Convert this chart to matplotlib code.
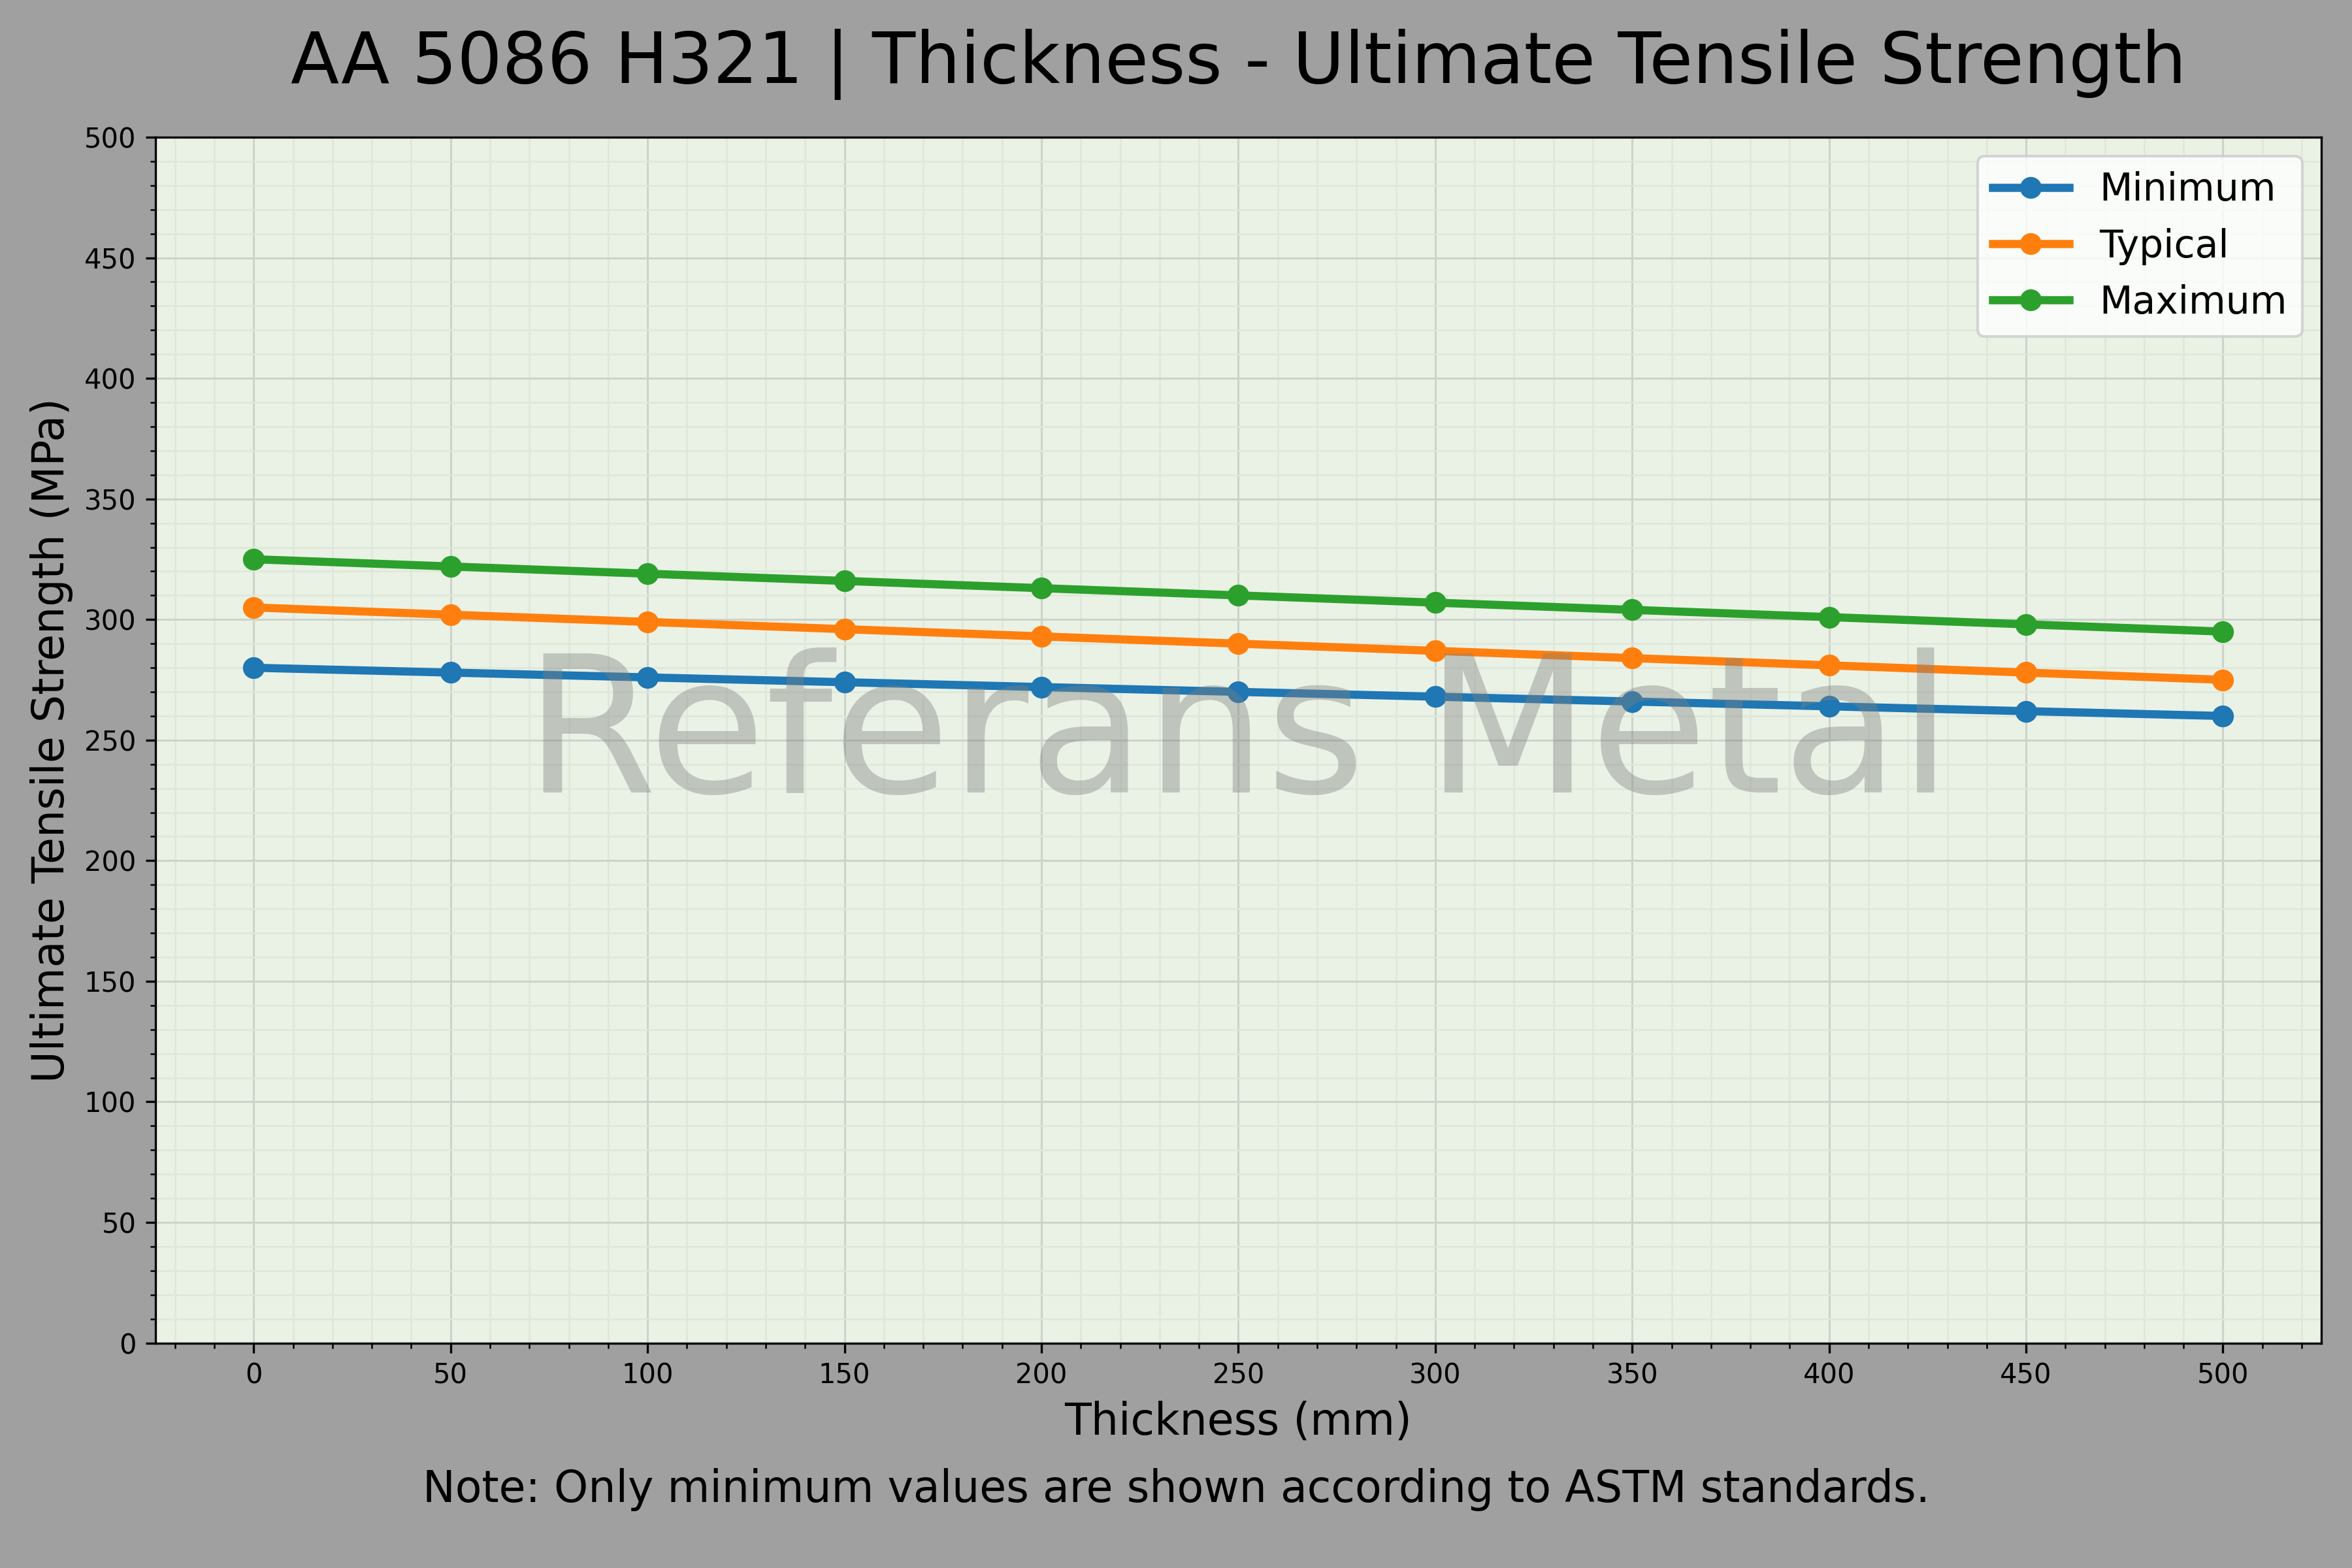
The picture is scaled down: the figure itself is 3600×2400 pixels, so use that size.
import matplotlib
matplotlib.use("Agg")
import matplotlib.pyplot as plt
from matplotlib.ticker import MultipleLocator

thickness = [0, 50, 100, 150, 200, 250, 300, 350, 400, 450, 500]
uts_min = [280, 278, 276, 274, 272, 270, 268, 266, 264, 262, 260]
uts_typ = [305, 302, 299, 296, 293, 290, 287, 284, 281, 278, 275]
uts_max = [325, 322, 319, 316, 313, 310, 307, 304, 301, 298, 295]

fig = plt.figure(figsize=(12, 8), dpi=300, facecolor='#a0a0a0')
ax = fig.add_axes([0.066, 0.1435, 0.921, 0.769])
ax.set_facecolor('#eaf2e6')

ax.plot(thickness, uts_min, '-o', color='#1f77b4', lw=3, ms=7, label='Minimum')
ax.plot(thickness, uts_typ, '-o', color='#ff7f0e', lw=3, ms=7, label='Typical')
ax.plot(thickness, uts_max, '-o', color='#2ca02c', lw=3, ms=7, label='Maximum')

ax.set_ylim(0, 500)
ax.set_xlim(-25, 525)
ax.xaxis.set_major_locator(MultipleLocator(50))
ax.xaxis.set_minor_locator(MultipleLocator(10))
ax.yaxis.set_major_locator(MultipleLocator(50))
ax.yaxis.set_minor_locator(MultipleLocator(10))
ax.grid(which='major', color='#cdd3ca', lw=0.75)
ax.grid(which='minor', color='#dfe7db', lw=0.6)
ax.set_axisbelow(True)
ax.tick_params(labelsize=10)

ax.text(0.5, 0.5, 'Referans Metal', transform=ax.transAxes, fontsize=70,
        color='gray', alpha=0.4, ha='center', va='center')

ax.set_xlabel('Thickness (mm)', fontsize=16)
ax.set_ylabel('Ultimate Tensile Strength (MPa)', fontsize=16)
ax.set_title('AA 5086 H321 | Thickness - Ultimate Tensile Strength', fontsize=26, pad=20)
fig.text(0.5, 0.05, 'Note: Only minimum values are shown according to ASTM standards.',
         ha='center', va='center', fontsize=16)

ax.legend(loc='upper right', fontsize=14)

fig.savefig('out.png', dpi=300, facecolor=fig.get_facecolor())
